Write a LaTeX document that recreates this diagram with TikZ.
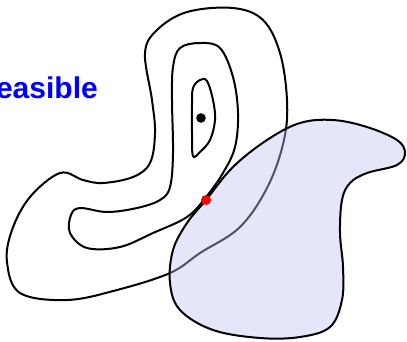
\documentclass[tikz,border=0pt]{standalone}
\usepackage{fontspec}
\setmainfont{Liberation Sans}
\begin{document}
\begin{tikzpicture}[x=1pt,y=-1pt,
  contour/.style={line width=2pt, line join=round},
  feas/.style={fill={rgb,255:red,195;green,195;blue,243}, fill opacity=0.42},
  feasline/.style={line width=2pt, line join=round}]
\useasboundingbox (0,0) rectangle (407,341);
\clip (0,0) rectangle (407,341);
% outer contour
\draw[contour] plot[smooth cycle, tension=0.6] coordinates {
 (145,53) (157,30) (187,12) (233,8) (263,20) (280,53) (287,100) (284,140)
 (268,186) (240,227) (200,253) (170,273) (117,290) (67,300) (20,293) (7,262)
 (12,230) (30,197) (60,173) (83,180) (103,183) (133,177) (150,163) (155,133)
 (152,100)};
% middle contour
\draw[contour] plot[smooth cycle, tension=0.6] coordinates {
 (173,67) (180,48) (200,43) (220,48) (233,77) (238,113) (235,147) (223,173)
 (206,197) (187,217) (153,233) (120,247) (87,248) (70,233) (71,215) (80,208)
 (107,212) (137,208) (160,200) (170,187) (173,153) (172,100)};
% inner contour
\draw[contour] plot[smooth cycle, tension=0.6] coordinates {
 (193,88) (200,80) (207,81) (213,100) (215,120) (210,140) (200,152) (193,156)
 (192,133) (192,105)};
% feasible region
\path[feas] plot[smooth cycle, tension=0.6] coordinates {
 (206,200) (233,167) (267,140) (300,123) (333,120) (367,127) (397,140) (405,153)
 (397,165) (367,173) (350,183) (342,200) (340,233) (343,267) (342,300) (330,327)
 (300,337) (260,338) (213,330) (180,310) (170,283) (173,250) (187,223)};
\draw[feasline] plot[smooth cycle, tension=0.6] coordinates {
 (206,200) (233,167) (267,140) (300,123) (333,120) (367,127) (397,140) (405,153)
 (397,165) (367,173) (350,183) (342,200) (340,233) (343,267) (342,300) (330,327)
 (300,337) (260,338) (213,330) (180,310) (170,283) (173,250) (187,223)};
% points
\fill (201,118) circle (4.8);
\fill[red] (206,200) circle (5);
\node[anchor=base east, inner sep=0pt, text={rgb,255:red,0;green,0;blue,255},
  font=\fontsize{30}{30}\selectfont\bfseries] (lbl) at (98,98.5) {easible};
\end{tikzpicture}
\end{document}
